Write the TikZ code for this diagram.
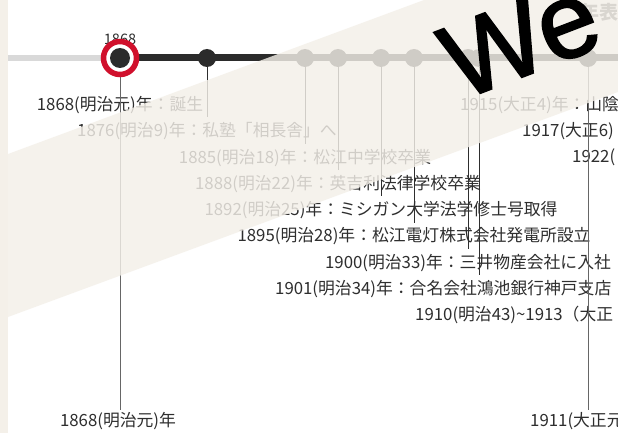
\documentclass[tikz,border=0pt]{standalone}
\usepackage{fontspec}
\usepackage{xcolor}
\usepackage{tikz}
\newfontfamily\jpfont{Noto Sans CJK JP}
\newfontfamily\wefont[FakeBold=2]{Liberation Sans}
\definecolor{band}{HTML}{F4F0E9}
\definecolor{txt}{HTML}{2E2E2E}
\definecolor{ringred}{HTML}{D0102C}
\definecolor{barlight}{HTML}{D9D9D9}
\definecolor{bardark}{HTML}{2B2B2B}

\begin{document}
\begin{tikzpicture}[x=1pt,y=-1pt,
    lbl/.style={font=\jpfont\fontsize{16.8}{16.8}\selectfont,text=txt,inner sep=2pt},
    dot/.style={circle,fill=bardark,minimum size=18pt,inner sep=0pt},
    tick/.style={draw=txt,line width=0.9pt,shorten >=3pt},
    axis/.style={draw=gray!80!black,line width=0.9pt}]
\useasboundingbox (0,0) rectangle (618,433);
\clip (0,0) rectangle (618,433);
\fill[white] (0,0) rectangle (618,433);
\fill[band] (0,0) rectangle (8,433);
\coordinate (barstart) at (8,58);
\coordinate (barend) at (640,58);
\coordinate (now) at (120,58);
\draw[barlight,line width=6pt] (barstart) -- (now);
\draw[bardark,line width=7pt] (now) -- (barend);
\node[dot] (d1876) at (207,58) {};
\node[dot] (d1885) at (305,58) {};
\node[dot] (d1888) at (338,58) {};
\node[dot] (d1892) at (381,58) {};
\node[dot] (d1895) at (414,58) {};
\node[dot] (d1900) at (468,58) {};
\node[dot] (d1901) at (479,58) {};
\node[dot] (d1911) at (588,58) {};
\node[lbl] (l1868) at (120,105) {1868(明治元)年：誕生};
\node[lbl] (l1876) at (207,131.3) {1876(明治9)年：私塾「相長舎」へ};
\node[lbl] (l1885) at (305,157.6) {1885(明治18)年：松江中学校卒業};
\node[lbl] (l1888) at (338,183.9) {1888(明治22)年：英吉利法律学校卒業};
\node[lbl] (l1892) at (381,210.2) {1892(明治25)年：ミシガン大学法学修士号取得};
\node[lbl] (l1895) at (414,236.5) {1895(明治28)年：松江電灯株式会社発電所設立};
\node[lbl] (l1900) at (468,262.8) {1900(明治33)年：三井物産会社に入社};
\node[lbl,anchor=west] (l1901) at (273,289.1) {1901(明治34)年：合名会社鴻池銀行神戸支店};
\node[lbl,anchor=west] (l1910) at (413,315.4) {1910(明治43)\textasciitilde1913（大正};
\node[lbl,anchor=west] (l1915) at (458,105) {1915(大正4)年：山陰};
\node[lbl,anchor=west] (l1917) at (520,131.3) {1917(大正6)};
\node[lbl,anchor=west] (l1922) at (570,157.6) {1922(};
\node[lbl] (b1868) at (118,421) {1868(明治元)年};
\node[lbl,anchor=west] (b1911) at (528,421) {1911(大正元)年};
\draw[tick] (d1876) -- (l1876.north);
\draw[tick] (d1885) -- (l1885.north);
\draw[tick] (d1888) -- (l1888.north);
\draw[tick] (d1892) -- (l1892.north);
\draw[tick] (d1895) -- (l1895.north);
\draw[tick] (d1900) -- (l1900.north);
\draw[tick] (d1901) -- (d1901 |- l1901.north);
\draw[axis] (now) -- (now |- b1868.north);
\draw[axis] (d1911) -- (d1911 |- b1911.north);
\node[lbl,font=\jpfont\fontsize{14.5}{14.5}\selectfont] (yr) at (120,39) {1868};
\node[circle,fill=white,draw=ringred,line width=5.5pt,minimum size=33pt] (ring) at (now) {};
\node[circle,fill=bardark,minimum size=20pt,inner sep=0pt] (cur) at (now) {};
\node[font=\jpfont\bfseries\fontsize{19}{19}\selectfont,text=txt!75,anchor=east] (title) at (622,12) {年表};
\fill[band,fill opacity=0.82] (8,154) -- (424,0) -- (618,0) -- (618,92) -- (8,317) -- cycle;
\node[font=\wefont\fontsize{106}{106}\selectfont,anchor=base west,inner sep=0pt,rotate=21] (we) at (459.7,100.9) {We};
\end{tikzpicture}
\end{document}
